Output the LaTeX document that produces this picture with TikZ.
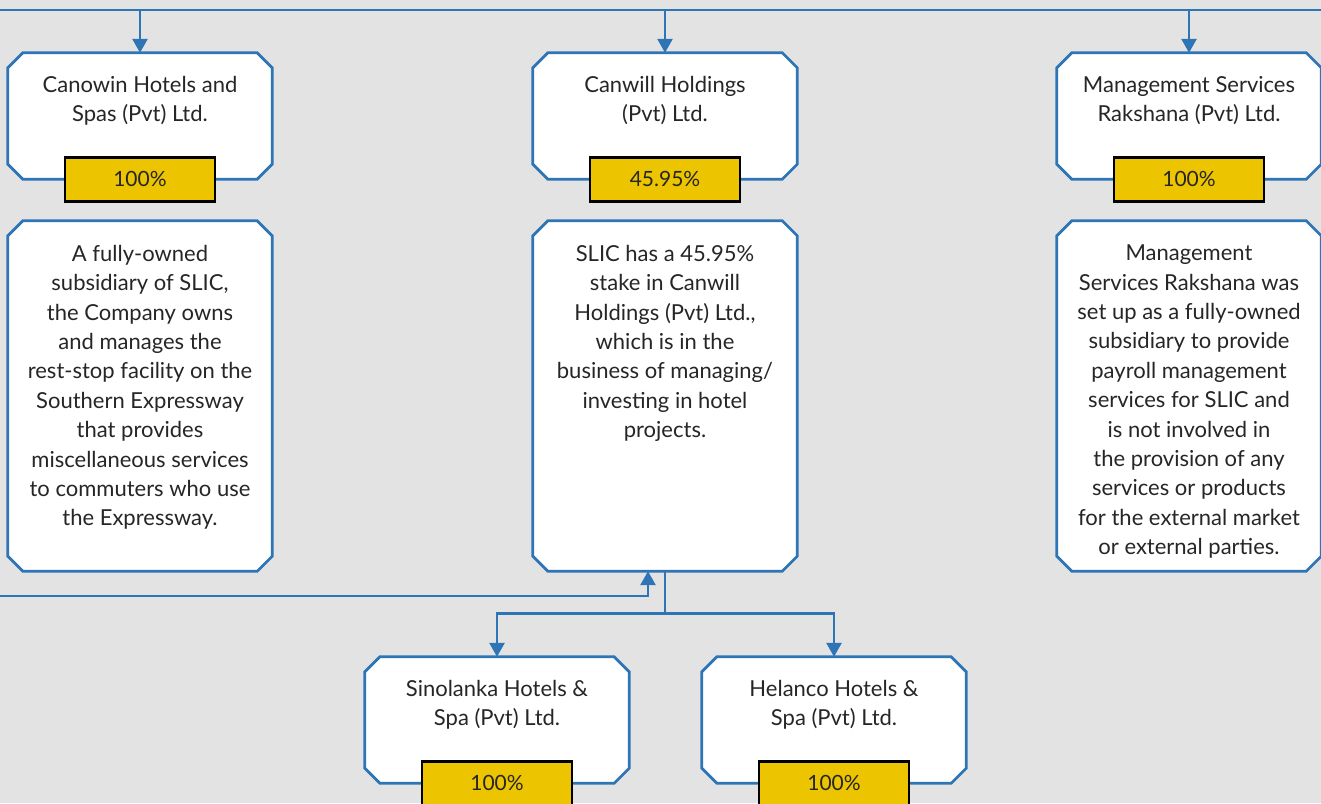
\documentclass[tikz,border=0pt]{standalone}
\usepackage{fontspec}
\setmainfont{Lato}
\usetikzlibrary{arrows.meta,positioning}

\definecolor{linkblue}{RGB}{46,117,182}
\definecolor{pctyellow}{RGB}{236,196,0}
\definecolor{bggray}{RGB}{227,227,227}

\tikzset{
  company/.style={rectangle, inner sep=0pt,
    minimum width=264pt, minimum height=126pt},
  story/.style={company, minimum height=350pt},
  boxline/.style={draw=linkblue, line width=2.7pt, fill=white, line join=miter},
  title/.style={inner sep=0pt, align=center, text=black!85,
    font=\fontsize{22pt}{29.4pt}\selectfont},
  pct/.style={draw=black, line width=2.7pt, fill=pctyellow, inner sep=0pt,
    minimum width=150pt, minimum height=44pt, text=black!85,
    font=\fontsize{21pt}{24pt}\selectfont},
  link/.style={draw=linkblue, line width=2.7pt},
  arrow/.style={link, -{Triangle[width=15pt,length=14pt]}}
}

% chamfered outline round a named node
\newcommand{\chamf}[1]{%
  \draw[boxline] ([xshift=15pt]#1.north west) -- ([xshift=-15pt]#1.north east)
    -- ([yshift=-15pt]#1.north east) -- ([yshift=15pt]#1.south east)
    -- ([xshift=-15pt]#1.south east) -- ([xshift=15pt]#1.south west)
    -- ([yshift=15pt]#1.south west) -- ([yshift=-15pt]#1.north west) -- cycle;}

\begin{document}
\begin{tikzpicture}[x=1pt,y=-1pt]
  \fill[bggray] (0,0) rectangle (1321,803);
  \useasboundingbox (0,0) rectangle (1321,803);

  % top row
  \node[company] (canowin) at (140,116) {};
  \node[company] (canwill) at (665,116) {};
  \node[company] (rakshana) at (1189,116) {};
  \chamf{canowin} \chamf{canwill} \chamf{rakshana}

  \node[title, below=23pt of canowin.north] (canowinT) {Canowin Hotels and\\Spas (Pvt) Ltd.};
  \node[title, below=23pt of canwill.north] (canwillT) {Canwill Holdings\\(Pvt) Ltd.};
  \node[title, below=23pt of rakshana.north] (rakshanaT) {Management Services\\Rakshana (Pvt) Ltd.};

  \node[pct] (canowinP) at (canowin.south) {100\%};
  \node[pct] (canwillP) at (canwill.south) {45.95\%};
  \node[pct] (rakshanaP) at (rakshana.south) {100\%};

  % descriptions
  \node[story] (canowinD) at (140,396) {};
  \node[story] (canwillD) at (665,396) {};
  \node[story] (rakshanaD) at (1189,396) {};
  \chamf{canowinD} \chamf{canwillD} \chamf{rakshanaD}

  \node[title, below=24pt of canowinD.north] (canowinS) {A fully-owned\\subsidiary of SLIC,\\the Company owns\\and manages the\\rest-stop facility on the\\Southern Expressway\\that provides\\miscellaneous services\\to commuters who use\\the Expressway.};
  \node[title, below=24pt of canwillD.north] (canwillS) {SLIC has a 45.95\%\\stake in Canwill\\Holdings (Pvt) Ltd.,\\which is in the\\business of managing/\\investing in hotel\\projects.};
  \node[title, below=24pt of rakshanaD.north] (rakshanaS) {Management\\Services Rakshana was\\set up as a fully-owned\\subsidiary to provide\\payroll management\\services for SLIC and\\is not involved in\\the provision of any\\services or products\\for the external market\\or external parties.};

  % bottom row
  \node[company] (sinolanka) at (497,720) {};
  \node[company] (helanco) at (834,720) {};
  \chamf{sinolanka} \chamf{helanco}
  \node[title, below=23pt of sinolanka.north] (sinolankaT) {Sinolanka Hotels \&\\Spa (Pvt) Ltd.};
  \node[title, below=23pt of helanco.north] (helancoT) {Helanco Hotels \&\\Spa (Pvt) Ltd.};
  \node[pct] (sinolankaP) at (sinolanka.south) {100\%};
  \node[pct] (helancoP) at (helanco.south) {100\%};

  % connectors
  \coordinate (topL) at (0,10);
  \coordinate (topR) at (1321,10);
  \draw[link] (topL) -- (topR);
  \draw[arrow] (canowin.north |- topL) -- (canowin.north);
  \draw[arrow] (canwill.north |- topL) -- (canwill.north);
  \draw[arrow] (rakshana.north |- topL) -- (rakshana.north);

  \draw[link] (canwillD.south) -- ++(0,42) coordinate (fork);
  \draw[arrow] (fork) -| (sinolanka.north);
  \draw[arrow] (fork) -| (helanco.north);

  \coordinate (leftIn) at (0,596);
  \draw[arrow] (leftIn) -| ([xshift=-17pt]canwillD.south);
\end{tikzpicture}
\end{document}
